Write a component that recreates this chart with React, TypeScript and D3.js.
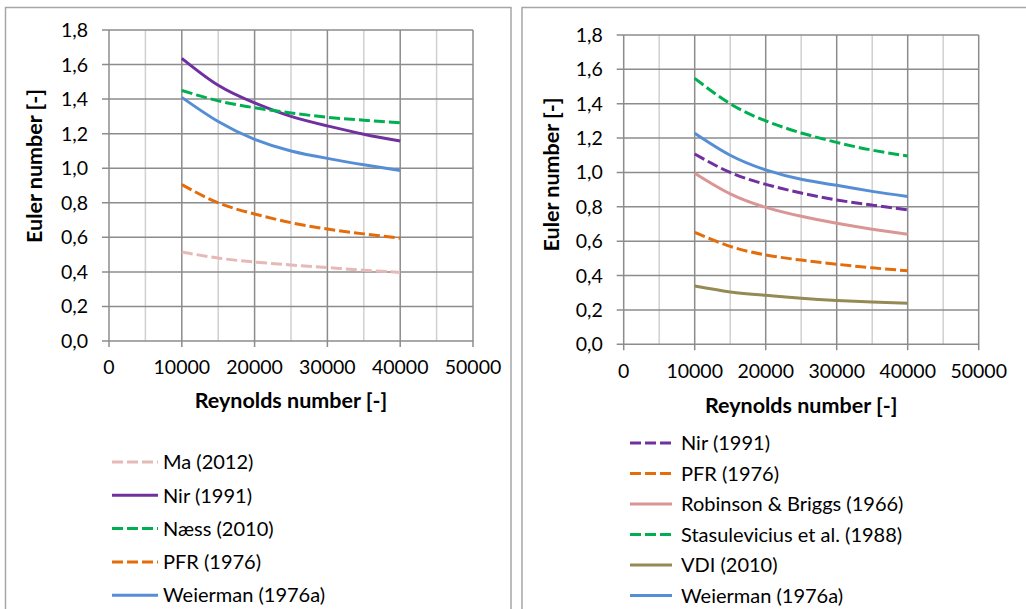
import React from 'react';
import * as d3 from 'd3';

// Reynolds numbers where the curves were read
const reynolds = [10000, 15000, 20000, 25000, 30000, 35000, 40000];

// left chart
const leftMa = [0.515, 0.48, 0.457, 0.44, 0.425, 0.41, 0.397];
const leftNir = [1.636, 1.48, 1.378, 1.3, 1.245, 1.197, 1.157];
const leftNaess = [1.45, 1.39, 1.35, 1.32, 1.295, 1.278, 1.263];
const leftPfr = [0.905, 0.8, 0.735, 0.685, 0.648, 0.62, 0.595];
const leftWeierman = [1.41, 1.27, 1.167, 1.1, 1.057, 1.02, 0.987];

// right chart
const rightNir = [1.108, 1.0, 0.931, 0.88, 0.84, 0.81, 0.782];
const rightPfr = [0.652, 0.57, 0.52, 0.49, 0.466, 0.445, 0.428];
const rightRobinson = [0.995, 0.875, 0.797, 0.745, 0.704, 0.67, 0.64];
const rightStasulevicius = [1.548, 1.4, 1.3, 1.23, 1.175, 1.13, 1.096];
const rightVdi = [0.339, 0.305, 0.285, 0.268, 0.255, 0.246, 0.239];
const rightWeierman = [1.228, 1.1, 1.015, 0.96, 0.925, 0.89, 0.86];

const xMajorTicks = [0, 10000, 20000, 30000, 40000, 50000];
const xMinorTicks = [5000, 15000, 25000, 35000, 45000];

const DASH = '11,4';
const FONT = 'Lato, "Open Sans", sans-serif';

const leftSeries = [
  { name: 'Ma (2012)', values: leftMa, color: '#e6b9b8', dash: DASH },
  { name: 'Nir (1991)', values: leftNir, color: '#7030a0', dash: null },
  { name: 'Næss (2010)', values: leftNaess, color: '#00b050', dash: DASH },
  { name: 'PFR (1976)', values: leftPfr, color: '#e46c0a', dash: DASH },
  { name: 'Weierman (1976a)', values: leftWeierman, color: '#558ed5', dash: null },
];

const rightSeries = [
  { name: 'Nir (1991)', values: rightNir, color: '#7030a0', dash: DASH },
  { name: 'PFR (1976)', values: rightPfr, color: '#e46c0a', dash: DASH },
  { name: 'Robinson & Briggs (1966)', values: rightRobinson, color: '#d99694', dash: null },
  { name: 'Stasulevicius et al. (1988)', values: rightStasulevicius, color: '#00b050', dash: DASH },
  { name: 'VDI (2010)', values: rightVdi, color: '#948a54', dash: null },
  { name: 'Weierman (1976a)', values: rightWeierman, color: '#558ed5', dash: null },
];

const fmt = (v: number) => d3.format('.1f')(v).replace('.', ',');

type Series = { name: string; values: number[]; color: string; dash: string | null };

type PanelProps = {
  series: Series[];
  plot: { left: number; right: number; top: number; bottom: number };
  yTitle: { x: number; y: number };
  xTitleBaseline: number;
  xLabelBaseline: number;
  legend: { swatchX0: number; swatchX1: number; textX: number; firstY: number; step: number };
};

function Panel({ series, plot, yTitle, xTitleBaseline, xLabelBaseline, legend }: PanelProps) {
  const x = d3.scaleLinear().domain([0, 50000]).range([plot.left, plot.right]);
  const y = d3.scaleLinear().domain([0, 1.8]).range([plot.bottom, plot.top]);
  const yTicks = y.ticks(10);

  const line = d3.line<number>()
    .x((_, i) => x(reynolds[i]))
    .y(d => y(d))
    .curve(d3.curveNatural);

  return (
    <g>
      {/* minor vertical grid */}
      {xMinorTicks.map(t => (
        <line key={'mn' + t} x1={x(t)} x2={x(t)} y1={plot.top} y2={plot.bottom}
          stroke="#d0d0d0" strokeWidth={1.5} />
      ))}
      {/* horizontal grid */}
      {yTicks.map(t => (
        <line key={'h' + t} x1={plot.left - 7} x2={plot.right} y1={y(t)} y2={y(t)}
          stroke="#8c8c8c" strokeWidth={1.5} />
      ))}
      {/* major vertical grid + ticks */}
      {xMajorTicks.map(t => (
        <line key={'mj' + t} x1={x(t)} x2={x(t)} y1={plot.top} y2={plot.bottom + 6}
          stroke="#8c8c8c" strokeWidth={1.5} />
      ))}

      {/* y labels */}
      {yTicks.map(t => (
        <text key={'yl' + t} x={plot.left - 21} y={y(t)} dy="0.36em" textAnchor="end"
          fontFamily={FONT} fontSize={19.5} fill="#000">{fmt(t)}</text>
      ))}
      {/* x labels */}
      {xMajorTicks.map(t => (
        <text key={'xl' + t} x={x(t)} y={xLabelBaseline} textAnchor="middle"
          fontFamily={FONT} fontSize={19.5} fill="#000">{t}</text>
      ))}

      {/* curves */}
      {series.map(s => (
        <path key={s.name} d={line(s.values) ?? ''} fill="none" stroke={s.color}
          strokeWidth={3} strokeDasharray={s.dash ?? undefined} />
      ))}

      {/* axis titles */}
      <text transform={`translate(${yTitle.x},${yTitle.y}) rotate(-90)`} dy="0.36em"
        textAnchor="middle" fontFamily={FONT} fontWeight="bold" fontSize={21.5} fill="#000">
        Euler number [-]
      </text>
      <text x={(plot.left + plot.right) / 2} y={xTitleBaseline} textAnchor="middle"
        fontFamily={FONT} fontWeight="bold" fontSize={21.5} fill="#000">
        Reynolds number [-]
      </text>

      {/* legend */}
      {series.map((s, i) => {
        const ly = legend.firstY + i * legend.step;
        return (
          <g key={'lg' + s.name}>
            <line x1={legend.swatchX0} x2={legend.swatchX1} y1={ly} y2={ly} stroke={s.color}
              strokeWidth={3} strokeDasharray={s.dash ?? undefined} />
            <text x={legend.textX} y={ly} dy="0.36em" fontFamily={FONT} fontSize={20} fill="#000">
              {s.name}
            </text>
          </g>
        );
      })}
    </g>
  );
}

export default function App() {
  return (
    <svg width={1026} height={609} viewBox="0 0 1026 609"
      style={{ position: 'absolute', left: 0, top: 0, display: 'block', background: '#fff' }}>
      <rect x={0} y={0} width={1026} height={609} fill="#fff" />
      <rect x={5.5} y={7.5} width={505.5} height={700} fill="none" stroke="#a6a6a6" strokeWidth={1.5} />
      <rect x={522} y={7.5} width={600} height={700} fill="none" stroke="#a6a6a6" strokeWidth={1.5} />
      <Panel
        series={leftSeries}
        plot={{ left: 109, right: 473, top: 30, bottom: 341 }}
        yTitle={{ x: 34, y: 166 }}
        xTitleBaseline={408}
        xLabelBaseline={374}
        legend={{ swatchX0: 112, swatchX1: 158, textX: 163, firstY: 462, step: 33.3 }}
      />
      <Panel
        series={rightSeries}
        plot={{ left: 623.7, right: 978.7, top: 35, bottom: 344.3 }}
        yTitle={{ x: 551, y: 174.5 }}
        xTitleBaseline={413}
        xLabelBaseline={378}
        legend={{ swatchX0: 630, swatchX1: 672, textX: 681, firstY: 443, step: 30.5 }}
      />
    </svg>
  );
}
